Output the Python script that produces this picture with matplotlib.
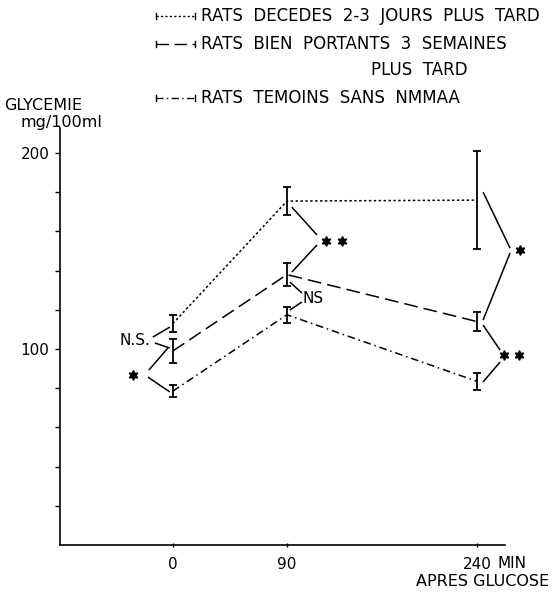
import matplotlib
matplotlib.use('Agg')
import matplotlib.pyplot as plt
from matplotlib.lines import Line2D

plt.rcParams['font.family'] = ['DejaVu Sans']

# ---- data ----
times = [0, 90, 240]
decedes_mean = [113, 175.5, 176]
decedes_err = [4.5, 7, 25]
portants_mean = [99, 138, 114]
portants_err = [6, 6, 5]
temoins_mean = [78.5, 117.5, 83.5]
temoins_err = [3, 4, 4.5]

legend_labels = ["RATS  DECEDES  2-3  JOURS  PLUS  TARD",
                 "RATS  BIEN  PORTANTS  3  SEMAINES",
                 "RATS  TEMOINS  SANS  NMMAA"]
legend_extra = "PLUS  TARD"

yticks = [20, 40, 60, 80, 100, 120, 140, 160, 180, 200]
ytick_labels = ["", "", "", "", "100", "", "", "", "", "200"]
xticks = [0, 90, 240]
xtick_labels = ["0", "90", "240"]

# significance brackets: segments (t pairs, value pairs), label and label position
ns0_seg_t = [[-15.8, -2.4], [-14.2, -2.4]]
ns0_seg_v = [[106.1, 111.2], [103.1, 100.5]]
ns0_label = ("N.S.", -17.5, 104.5)

st0_seg_t = [[-18.9, -3.9], [-19.7, -2.4]]
st0_seg_v = [[89.3, 100.5], [85.7, 78.1]]
st0_stars_t = [-31.6]
st0_stars_v = [86.7]

st90_seg_t = [[93.9, 113.7], [113.7, 93.9]]
st90_seg_v = [[172.4, 158.2], [153.1, 139.3]]
st90_stars_t = [120.8, 133.4]
st90_stars_v = [155.1, 155.1]

ns90_seg_t = [[92.3, 101.8], [101.8, 92.3]]
ns90_seg_v = [[134.2, 128.6], [124.0, 119.9]]
ns90_label = ("NS", 102.6, 126)

st240a_seg_t = [[244.7, 266.0], [266.0, 244.7]]
st240a_seg_v = [[180.1, 151.5], [149.0, 114.8]]
st240a_stars_t = [273.9]
st240a_stars_v = [150.5]

st240b_seg_t = [[244.7, 258.1], [258.1, 244.7]]
st240b_seg_v = [[112.2, 99.5], [93.4, 83.2]]
st240b_stars_t = [261.5, 273.4]
st240b_stars_v = [96.9, 96.9]

# ---- figure ----
W, H = 553, 597
fig = plt.figure(figsize=(W / 100, H / 100), dpi=100)
ax = fig.add_axes([60 / W, 1 - 545 / H, 445 / W, 417 / H])
ax.set_xlim(-89, 262)
ax.set_ylim(0, 212.8)
for s in ['top', 'right']:
    ax.spines[s].set_visible(False)
ax.spines['left'].set_linewidth(1.2)
ax.spines['bottom'].set_linewidth(1.2)

FS = 11
ax.set_yticks(yticks)
ax.set_yticklabels(ytick_labels)
ax.set_xticks(xticks)
ax.set_xticklabels(xtick_labels)
ax.tick_params(axis='y', direction='out', length=3.5, width=1, pad=4, labelsize=FS)
ax.tick_params(axis='x', direction='inout', length=3, width=1, pad=7, labelsize=FS)

lw = 1.1
styles = [(0, (1.6, 1.6)), (0, (9, 4)), (0, (5, 2.5, 1, 2.5))]
series = [(decedes_mean, decedes_err), (portants_mean, portants_err), (temoins_mean, temoins_err)]
for (m, e), ls in zip(series, styles):
    ax.plot(times, m, color='black', lw=lw, linestyle=ls)
    ax.errorbar(times, m, yerr=e, fmt='none', ecolor='black', elinewidth=1.3,
                capsize=3, capthick=1.3)

def bracket(seg_t, seg_v):
    for t, v in zip(seg_t, seg_v):
        ax.plot(t, v, color='black', lw=1.1, solid_capstyle='butt', clip_on=False)

for st, sv in [(ns0_seg_t, ns0_seg_v), (st0_seg_t, st0_seg_v), (st90_seg_t, st90_seg_v),
               (ns90_seg_t, ns90_seg_v), (st240a_seg_t, st240a_seg_v), (st240b_seg_t, st240b_seg_v)]:
    bracket(st, sv)

for tt, vv in [(st0_stars_t, st0_stars_v), (st90_stars_t, st90_stars_v),
               (st240a_stars_t, st240a_stars_v), (st240b_stars_t, st240b_stars_v)]:
    ax.plot(tt, vv, linestyle='none', marker=(6, 1, 0), markersize=7, color='black', clip_on=False)

ax.text(ns0_label[1], ns0_label[2], ns0_label[0], ha='right', va='center', fontsize=FS)
ax.text(ns90_label[1], ns90_label[2], ns90_label[0], ha='left', va='center', fontsize=FS)

# axis labels
fig.text(4 / W, 1 - 106 / H, "GLYCEMIE", ha='left', va='center', fontsize=11.5)
fig.text(20 / W, 1 - 123 / H, "mg/100ml", ha='left', va='center', fontsize=11.5)
fig.text(498 / W, 1 - 563 / H, "MIN", ha='left', va='center', fontsize=FS)
fig.text(549 / W, 1 - 581 / H, "APRES GLUCOSE", ha='right', va='center', fontsize=11.5)

# legend
leg_y = [16, 44, 98]
x0, x1 = 156, 195
for lab, ls, y in zip(legend_labels, styles, leg_y):
    yf = 1 - y / H
    fig.add_artist(Line2D([x0 / W, x1 / W], [yf, yf], color='black', lw=1.0, linestyle=ls))
    cap = 3 / H
    fig.add_artist(Line2D([x0 / W, x0 / W], [yf - cap, yf + cap], color='black', lw=1.0))
    fig.add_artist(Line2D([x1 / W, x1 / W], [yf - cap, yf + cap], color='black', lw=1.0))
    fig.text(201 / W, yf, lab, ha='left', va='center', fontsize=12)
fig.text(468 / W, 1 - 70 / H, legend_extra, ha='right', va='center', fontsize=12)

fig.savefig('out.png', dpi=100)
